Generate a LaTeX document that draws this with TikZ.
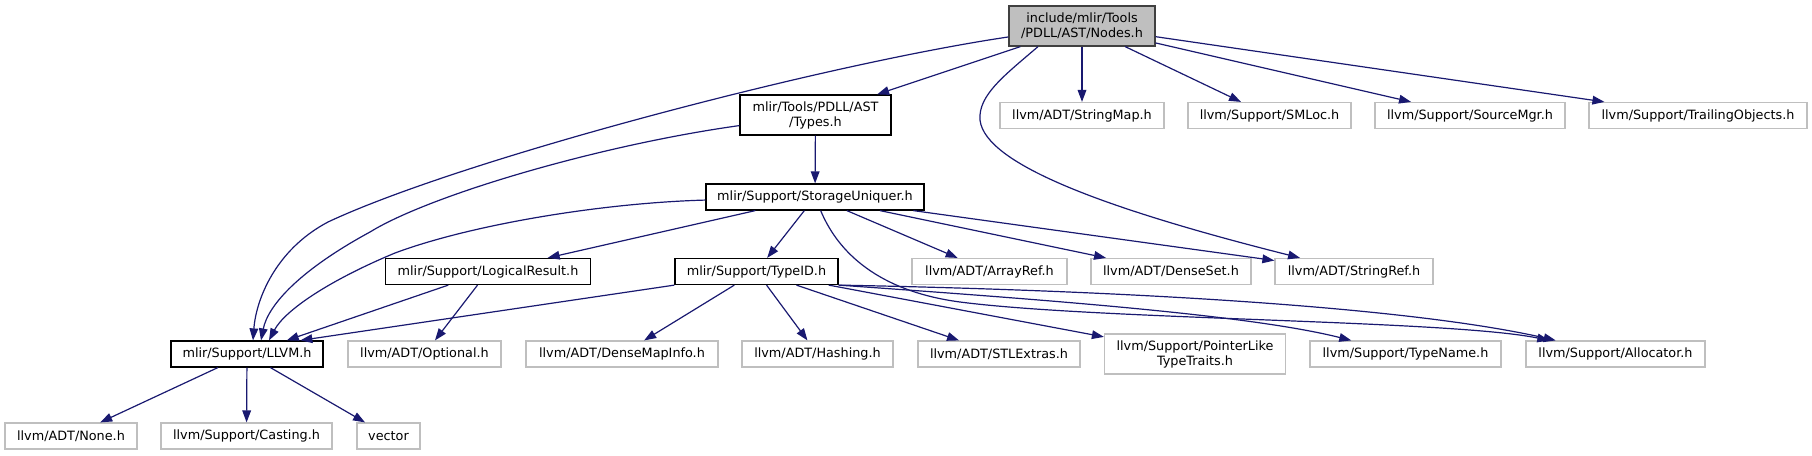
\documentclass[tikz,border=0pt]{standalone}
\usepackage{fontspec}
\newfontfamily\dotfont{DejaVu Sans}
\usetikzlibrary{arrows.meta}

\definecolor{edgeblue}{HTML}{191970}
\definecolor{extgray}{HTML}{BFBFBF}
\definecolor{rootline}{HTML}{404040}

\begin{document}
\begin{tikzpicture}[
    x=0.75pt, y=-0.75pt,
    hdr/.style={draw=black, line width=0.9pt, minimum height=19.5pt,
                inner sep=1pt, align=center,
                font=\dotfont\fontsize{9.6}{11.25}\selectfont},
    ext/.style={hdr, draw=extgray},
    root/.style={hdr, draw=rootline, fill=extgray, minimum height=30pt},
    dep/.style={draw=edgeblue, line width=0.9pt,
                -{Triangle[length=9pt, width=6.5pt]}, edgeblue}
  ]
  \useasboundingbox (0,0) rectangle (1812,455);

  \node[root, minimum width=109.5pt] (nodes) at (1082,26)
    {include/mlir/Tools\\/PDLL/AST/Nodes.h};

  \node[hdr, minimum width=113.25pt, minimum height=30pt] (types) at (815.5,115)
    {mlir/Tools/PDLL/AST\\/Types.h};
  \node[ext, minimum width=123pt] (stringmap) at (1082,115.5) {llvm/ADT/StringMap.h};
  \node[ext, minimum width=122.25pt] (smloc) at (1269.5,115.5) {llvm/Support/SMLoc.h};
  \node[ext, minimum width=142.5pt] (sourcemgr) at (1470,115.5) {llvm/Support/SourceMgr.h};
  \node[ext, minimum width=163.5pt] (trailing) at (1698,115.5) {llvm/Support/TrailingObjects.h};

  \node[hdr, minimum width=163.5pt] (storage) at (815,197) {mlir/Support/StorageUniquer.h};

  \node[hdr, minimum width=153.75pt] (logical) at (488,271.5) {mlir/Support/LogicalResult.h};
  \node[hdr, minimum width=122.25pt] (typeid) at (756.5,271.5) {mlir/Support/TypeID.h};
  \node[ext, minimum width=116.25pt] (arrayref) at (989.5,271.5) {llvm/ADT/ArrayRef.h};
  \node[ext, minimum width=120pt] (denseset) at (1171,271.5) {llvm/ADT/DenseSet.h};
  \node[ext, minimum width=118.5pt] (stringref) at (1354,271.5) {llvm/ADT/StringRef.h};

  \node[hdr, minimum width=114pt] (llvm) at (247,354) {mlir/Support/LLVM.h};
  \node[ext, minimum width=114.75pt] (optional) at (424.5,354) {llvm/ADT/Optional.h};
  \node[ext, minimum width=144pt] (densemapinfo) at (622,354) {llvm/ADT/DenseMapInfo.h};
  \node[ext, minimum width=113.25pt] (hashing) at (817.5,354) {llvm/ADT/Hashing.h};
  \node[ext, minimum width=121.5pt] (stlextras) at (999,354) {llvm/ADT/STLExtras.h};
  \node[ext, minimum width=135.75pt, minimum height=30pt] (pointerlike) at (1195,354)
    {llvm/Support/PointerLike\\TypeTraits.h};
  \node[ext, minimum width=143.25pt] (typename) at (1405.5,354) {llvm/Support/TypeName.h};
  \node[ext, minimum width=134.25pt] (allocator) at (1615.5,354) {llvm/Support/Allocator.h};

  \node[ext, minimum width=99pt] (none) at (71,436) {llvm/ADT/None.h};
  \node[ext, minimum width=128.25pt] (casting) at (246.5,436) {llvm/Support/Casting.h};
  \node[ext, minimum width=47.25pt] (vector) at (388.5,436) {vector};

  \draw[dep] (nodes) .. controls (820,65) and (460,160) .. (328,222)
    .. controls (275,250) and (256,300) .. ([xshift=4.5pt]llvm.north);
  \draw[dep] (nodes) -- (types);
  \draw[dep] ([xshift=-33pt]nodes.south) .. controls (1005,75) and (978,95) .. (980,120)
    .. controls (985,165) and (1110,210) .. (stringref);
  \draw[dep] (nodes) -- (stringmap);
  \draw[dep] (nodes) -- (smloc);
  \draw[dep] (nodes) -- (sourcemgr);
  \draw[dep] (nodes) -- (trailing);

  \draw[dep] (types) .. controls (600,145) and (430,195) .. (370,232)
    .. controls (300,270) and (268,305) .. ([xshift=10.5pt]llvm.north);
  \draw[dep] (types) -- (storage);

  \draw[dep] (storage) .. controls (600,203) and (470,225) .. (395,253)
    .. controls (330,280) and (285,310) .. ([xshift=16.5pt]llvm.north);
  \draw[dep] (storage) -- (logical);
  \draw[dep] (storage) -- (typeid);
  \draw[dep] (storage) .. controls (835,245) and (870,290) .. (960,302)
    .. controls (1100,320) and (1450,320) .. (allocator);
  \draw[dep] (storage) -- (arrayref);
  \draw[dep] (storage) -- (denseset);
  \draw[dep] (storage) -- (stringref);

  \draw[dep] (logical) -- (llvm);
  \draw[dep] (logical) -- (optional);

  \draw[dep] (typeid.south west) -- ([xshift=40pt]llvm.north);
  \draw[dep] (typeid) -- (densemapinfo);
  \draw[dep] (typeid) -- (hashing);
  \draw[dep] (typeid) -- (stlextras);
  \draw[dep] (typeid) -- (pointerlike);
  \draw[dep] (typeid.south east) .. controls (1050,300) and (1250,315) .. (typename);
  \draw[dep] (typeid.south east) .. controls (1100,290) and (1400,305) .. (allocator);

  \draw[dep] (llvm) -- (none);
  \draw[dep] (llvm) -- (casting);
  \draw[dep] (llvm) -- (vector);
\end{tikzpicture}
\end{document}
